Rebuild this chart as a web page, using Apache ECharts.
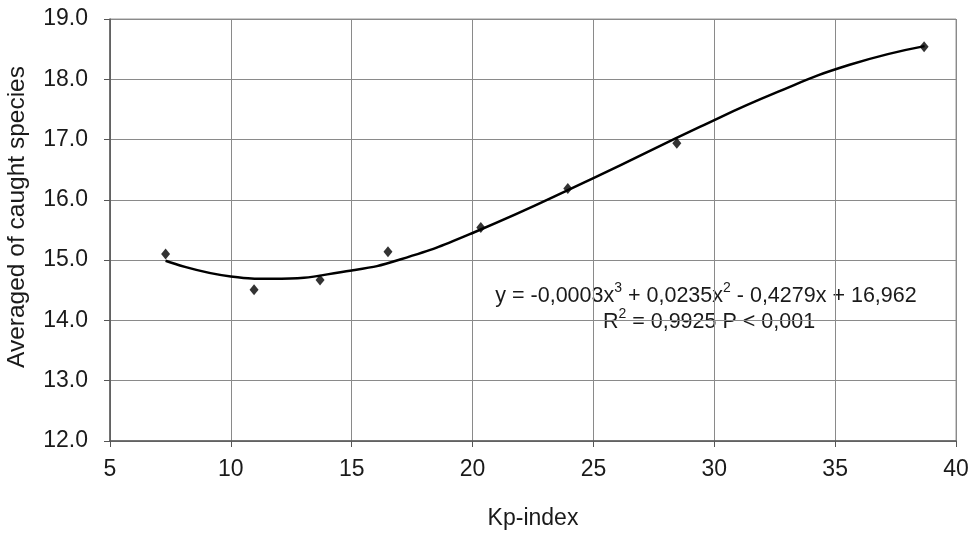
<!DOCTYPE html>
<html>
<head>
<meta charset="utf-8">
<script src="https://cdn.jsdelivr.net/npm/echarts@6/dist/echarts.min.js"></script>
<style>
  html, body { margin: 0; padding: 0; background: #fff; }
  #chart { width: 977px; height: 534px; }
</style>
</head>
<body>
<div id="chart"></div>
<script>
// observed points (Kp-index, averaged caught species)
const kpValues = [7.3, 10.96, 13.69, 16.5, 20.34, 23.94, 28.45, 38.68];
const speciesValues = [15.10, 14.51, 14.67, 15.14, 15.54, 16.19, 16.94, 18.54];

// trend curve
const trendKp = [7.3, 10, 11.7, 15, 17, 20, 25, 29.4, 32.5, 35.6, 38.7];
const trendSpecies = [14.99, 14.73, 14.69, 14.83, 15.01, 15.45, 16.36, 17.21, 17.77, 18.24, 18.55];

const xTicks = [5, 10, 15, 20, 25, 30, 35, 40];
const yTicks = [12, 13, 14, 15, 16, 17, 18, 19];

// the picture is squeezed sideways, so horizontal text looks like a narrow face
const narrow = '"Liberation Sans Narrow", "Arial Narrow", sans-serif';
const wide = '"Liberation Sans", Arial, sans-serif';
const textColor = '#1a1a1a';

const chart = echarts.init(document.getElementById('chart'));
chart.setOption({
  animation: false,
  backgroundColor: '#fff',
  grid: {
    left: 110, right: 21, top: 19, bottom: 93,
    outerBoundsMode: 'none',
    containLabel: false,
    show: true, borderColor: '#999', borderWidth: 1
  },
  xAxis: {
    type: 'value',
    min: xTicks[0], max: xTicks[xTicks.length - 1], interval: 5,
    name: 'Kp-index',
    nameLocation: 'middle',
    nameGap: 66,
    nameTextStyle: { fontFamily: narrow, fontSize: 23, color: textColor },
    axisLine: { lineStyle: { color: '#555', width: 1.5 } },
    axisTick: { show: true, length: 6, lineStyle: { color: '#555' } },
    axisLabel: { fontFamily: narrow, fontSize: 23, color: textColor, margin: 17 },
    splitLine: { show: true, lineStyle: { color: '#8a8a8a', width: 1 } }
  },
  yAxis: {
    type: 'value',
    min: yTicks[0], max: yTicks[yTicks.length - 1], interval: 1,
    name: 'Averaged of caught species',
    nameLocation: 'middle',
    nameGap: 80,
    nameTextStyle: { fontFamily: wide, fontSize: 24.5, color: textColor, padding: [0, 0, 0, 26] },
    axisLine: { show: true, lineStyle: { color: '#555', width: 1.5 } },
    axisTick: { show: true, length: 6, lineStyle: { color: '#555' } },
    axisLabel: {
      fontFamily: narrow, fontSize: 23, color: textColor, margin: 22,
      formatter: v => v.toFixed(1)
    },
    splitLine: { show: true, lineStyle: { color: '#8a8a8a', width: 1 } }
  },
  graphic: [
    {
      type: 'text',
      x: 706, y: 294,
      style: {
        text: '{n|y = -0,0003x}{s|3}{n| + 0,0235x}{s|2}{n| - 0,4279x + 16,962}',
        align: 'center', verticalAlign: 'middle',
        fill: textColor,
        rich: {
          n: { fontFamily: narrow, fontSize: 21.5, color: textColor, lineHeight: 26, verticalAlign: 'bottom' },
          s: { fontFamily: narrow, fontSize: 14, color: textColor, lineHeight: 26, verticalAlign: 'top', padding: [0, 0, 12, 0] }
        }
      }
    },
    {
      type: 'text',
      x: 709, y: 320,
      style: {
        text: '{n|R}{s|2}{n| = 0,9925 P < 0,001}',
        align: 'center', verticalAlign: 'middle',
        fill: textColor,
        rich: {
          n: { fontFamily: narrow, fontSize: 21.5, color: textColor, lineHeight: 26, verticalAlign: 'bottom' },
          s: { fontFamily: narrow, fontSize: 14, color: textColor, lineHeight: 26, verticalAlign: 'top', padding: [0, 0, 12, 0] }
        }
      }
    }
  ],
  series: [
    {
      type: 'line',
      data: trendKp.map((x, i) => [x, trendSpecies[i]]),
      smooth: 0.5,
      showSymbol: false,
      lineStyle: { color: '#000', width: 2.5 },
      z: 3
    },
    {
      type: 'scatter',
      data: kpValues.map((x, i) => [x, speciesValues[i]]),
      symbol: 'diamond',
      symbolSize: [9, 11],
      itemStyle: { color: '#000' },
      z: 4
    }
  ]
});
</script>
</body>
</html>
